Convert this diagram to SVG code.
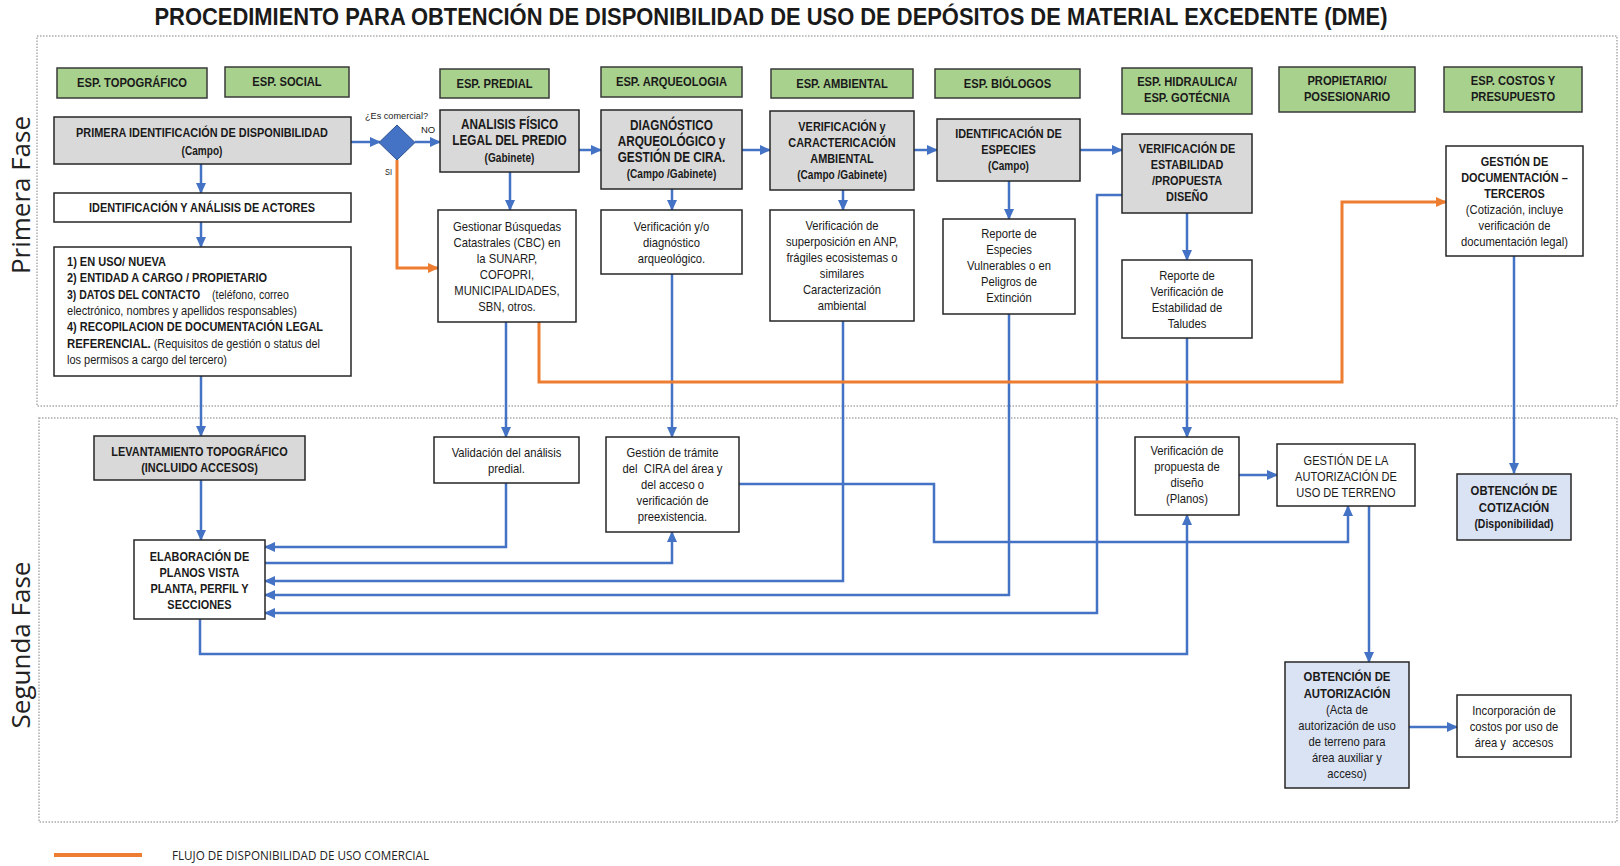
<svg xmlns="http://www.w3.org/2000/svg" width="1620" height="866" viewBox="0 0 1620 866">
  <defs>
    <marker id="ab" markerWidth="11" markerHeight="10" refX="10" refY="5" orient="auto" markerUnits="userSpaceOnUse">
      <path d="M0,0 L11,5 L0,10 z" fill="#4472C4"/>
    </marker>
    <marker id="ao" markerWidth="11" markerHeight="10" refX="10" refY="5" orient="auto" markerUnits="userSpaceOnUse">
      <path d="M0,0 L11,5 L0,10 z" fill="#ED7D31"/>
    </marker>
    <style>
      text { font-family: "Liberation Sans", Arial, sans-serif; fill: #1a1a1a; }
      .c { text-anchor: middle; }
      .b { font-weight: bold; font-size: 13px; }
      .bd { font-weight: bold; font-size: 12.5px; }
      .bs { font-weight: bold; font-size: 12px; }
      .n { font-size: 12.5px; }
      .s { font-size: 12px; }
      .t { font-weight: bold; font-size: 23px; }
      .ph { font-family: "Open Sans", "Noto Sans", sans-serif; font-size: 26px; fill: #222; }
      .lg { font-family: "Open Sans", "Noto Sans", sans-serif; font-size: 12px; fill: #222; }
      .tiny { font-size: 9.5px; }
      .grn { fill: #A9D18E; stroke: #3a3a3a; stroke-width: 1.5; }
      .gry { fill: #D9D9D9; stroke: #262626; stroke-width: 1.5; }
      .wht { fill: #FFFFFF; stroke: #262626; stroke-width: 1.5; }
      .lbl { fill: #DAE3F3; stroke: #262626; stroke-width: 1.5; }
      .frame { fill: none; stroke: #ababab; stroke-width: 1.5; stroke-dasharray: 1.5 1.5; }
      .bl { fill: none; stroke: #4472C4; stroke-width: 2.5; }
      .or { fill: none; stroke: #ED7D31; stroke-width: 3; }
    </style>
  </defs>

  <!-- title -->
  <text class="t c" x="771" y="25" textLength="1233" lengthAdjust="spacingAndGlyphs">PROCEDIMIENTO PARA OBTENCIÓN DE DISPONIBILIDAD DE USO DE DEPÓSITOS DE MATERIAL EXCEDENTE (DME)</text>

  <!-- phase frames -->
  <g id="phases">
    <rect class="frame" x="37" y="36" width="1580" height="370"/>
    <rect class="frame" x="39" y="418" width="1578" height="404"/>
    <text class="ph c" transform="translate(30,195) rotate(-90)" textLength="158" lengthAdjust="spacingAndGlyphs">Primera Fase</text>
    <text class="ph c" transform="translate(30,645) rotate(-90)" textLength="167" lengthAdjust="spacingAndGlyphs">Segunda Fase</text>
  </g>

  <!-- specialist headers (condensed lettering via horizontal scale) -->
  <g id="h-topo"><rect class="grn" x="57" y="68" width="150" height="30"/>
    <g transform="translate(132,0) scale(0.86,1)"><text class="b c" x="0" y="87.5">ESP. TOPOGRÁFICO</text></g></g>
  <g id="h-social"><rect class="grn" x="225" y="67" width="124" height="30"/>
    <g transform="translate(287,0) scale(0.86,1)"><text class="b c" x="0" y="86">ESP. SOCIAL</text></g></g>
  <g id="h-predial"><rect class="grn" x="440" y="69" width="109" height="29"/>
    <g transform="translate(494.5,0) scale(0.86,1)"><text class="b c" x="0" y="88">ESP. PREDIAL</text></g></g>
  <g id="h-arqueo"><rect class="grn" x="601" y="67" width="141" height="30"/>
    <g transform="translate(671.5,0) scale(0.86,1)"><text class="b c" x="0" y="86">ESP. ARQUEOLOGIA</text></g></g>
  <g id="h-ambiental"><rect class="grn" x="771" y="69" width="142" height="29"/>
    <g transform="translate(842,0) scale(0.86,1)"><text class="b c" x="0" y="88">ESP. AMBIENTAL</text></g></g>
  <g id="h-biologos"><rect class="grn" x="935" y="69" width="145" height="29"/>
    <g transform="translate(1007.5,0) scale(0.86,1)"><text class="b c" x="0" y="88">ESP. BIÓLOGOS</text></g></g>
  <g id="h-hidraulica"><rect class="grn" x="1122" y="68" width="130" height="46"/>
    <g transform="translate(1187,0) scale(0.86,1)"><text class="b c" x="0" y="86">ESP. HIDRAULICA/</text><text class="b c" x="0" y="102">ESP. GOTÉCNIA</text></g></g>
  <g id="h-propietario"><rect class="grn" x="1279" y="67" width="136" height="45"/>
    <g transform="translate(1347,0) scale(0.86,1)"><text class="b c" x="0" y="85">PROPIETARIO/</text><text class="b c" x="0" y="101">POSESIONARIO</text></g></g>
  <g id="h-costos"><rect class="grn" x="1444" y="67" width="138" height="45"/>
    <g transform="translate(1513,0) scale(0.86,1)"><text class="b c" x="0" y="85">ESP. COSTOS Y</text><text class="b c" x="0" y="101">PRESUPUESTO</text></g></g>

  <!-- connectors -->
  <g id="connectors">
    <path class="bl" d="M351,142 H380" marker-end="url(#ab)"/>
    <path class="bl" d="M415,142 H440" marker-end="url(#ab)"/>
    <path class="bl" d="M201,164 V193" marker-end="url(#ab)"/>
    <path class="bl" d="M201,222 V247" marker-end="url(#ab)"/>
    <path class="bl" d="M201,376 V436" marker-end="url(#ab)"/>
    <path class="bl" d="M201,480 V540" marker-end="url(#ab)"/>
    <path class="bl" d="M579,150 H601" marker-end="url(#ab)"/>
    <path class="bl" d="M510,172 V210" marker-end="url(#ab)"/>
    <path class="bl" d="M742,150 H770" marker-end="url(#ab)"/>
    <path class="bl" d="M672,189 V210" marker-end="url(#ab)"/>
    <path class="bl" d="M914,150 H937" marker-end="url(#ab)"/>
    <path class="bl" d="M843,190 V210" marker-end="url(#ab)"/>
    <path class="bl" d="M1080,150 H1122" marker-end="url(#ab)"/>
    <path class="bl" d="M1009,181 V219" marker-end="url(#ab)"/>
    <path class="bl" d="M1187,213 V260" marker-end="url(#ab)"/>
    <path class="bl" d="M1187,338 V437" marker-end="url(#ab)"/>
    <path class="bl" d="M506,322 V437" marker-end="url(#ab)"/>
    <path class="bl" d="M672,274 V437" marker-end="url(#ab)"/>
    <path class="bl" d="M506,483 V547 H265" marker-end="url(#ab)"/>
    <path class="bl" d="M265,563 H672 V532" marker-end="url(#ab)"/>
    <path class="bl" d="M843,321 V581 H265" marker-end="url(#ab)"/>
    <path class="bl" d="M1009,314 V595 H265" marker-end="url(#ab)"/>
    <path class="bl" d="M1122,195 H1097 V613 H265" marker-end="url(#ab)"/>
    <path class="bl" d="M200,619 V654 H1187 V515" marker-end="url(#ab)"/>
    <path class="bl" d="M739,484 H934 V542 H1348 V506" marker-end="url(#ab)"/>
    <path class="bl" d="M1239,475 H1277" marker-end="url(#ab)"/>
    <path class="bl" d="M1514,256 V473" marker-end="url(#ab)"/>
    <path class="bl" d="M1369,506 V662" marker-end="url(#ab)"/>
    <path class="bl" d="M1409,727 H1457" marker-end="url(#ab)"/>
    <path class="or" d="M397,160 V268 H438" marker-end="url(#ao)"/>
    <path class="or" d="M539,322 V382 H1342 V202 H1446" marker-end="url(#ao)"/>
  </g>

  <!-- decision -->
  <g id="decision">
    <path d="M397,125 L415,142.5 L397,160 L379,142.5 z" fill="#4472C4" stroke="#2F528F" stroke-width="1"/>
    <text class="tiny" x="365" y="119" textLength="63" lengthAdjust="spacingAndGlyphs">¿Es comercial?</text>
    <text class="tiny" x="421" y="133">NO</text>
    <text class="tiny" x="385" y="175" textLength="7" lengthAdjust="spacingAndGlyphs">SI</text>
  </g>

  <!-- first phase nodes -->
  <g id="n-primera"><rect class="gry" x="54" y="117" width="297" height="47"/>
    <g transform="translate(202,0) scale(0.84,1)">
      <text class="b c" x="0" y="137">PRIMERA IDENTIFICACIÓN DE DISPONIBILIDAD</text>
      <text class="bs c" x="0" y="155">(Campo)</text></g></g>
  <g id="n-actores"><rect class="wht" x="54" y="193" width="297" height="29"/>
    <g transform="translate(202,0) scale(0.84,1)">
      <text class="b c" x="0" y="212.5">IDENTIFICACIÓN Y ANÁLISIS DE ACTORES</text></g></g>
  <g id="n-detalle"><rect class="wht" x="54" y="247" width="297" height="129"/>
    <text class="bd" x="67" y="266" textLength="99" lengthAdjust="spacingAndGlyphs">1) EN USO/ NUEVA</text>
    <text class="bd" x="67" y="282" textLength="200" lengthAdjust="spacingAndGlyphs">2) ENTIDAD A CARGO / PROPIETARIO</text>
    <text class="bd" transform="translate(67,0) scale(0.84,1)" x="0" y="299">3) DATOS DEL CONTACTO</text>
    <text class="s" transform="translate(212,0) scale(0.88,1)" x="0" y="299">(teléfono, correo</text>
    <text class="s" x="67" y="315" textLength="230" lengthAdjust="spacingAndGlyphs">electrónico, nombres y apellidos responsables)</text>
    <text class="bd" x="67" y="331" textLength="256" lengthAdjust="spacingAndGlyphs">4) RECOPILACION DE DOCUMENTACIÓN LEGAL</text>
    <text x="67" y="348" textLength="253" lengthAdjust="spacingAndGlyphs"><tspan class="bd">REFERENCIAL.</tspan><tspan class="s"> (Requisitos de gestión o status del</tspan></text>
    <text class="s" x="67" y="364" textLength="160" lengthAdjust="spacingAndGlyphs">los permisos a cargo del tercero)</text></g>

  <g id="n-analisis"><rect class="gry" x="440" y="110" width="139" height="62"/>
    <g transform="translate(509.5,0) scale(0.84,1)">
      <text class="b c" x="0" y="129" style="font-size:14px">ANALISIS FÍSICO</text>
      <text class="b c" x="0" y="145" style="font-size:14px">LEGAL DEL PREDIO</text>
      <text class="bs c" x="0" y="162">(Gabinete)</text></g></g>
  <g id="n-busquedas"><rect class="wht" x="438" y="210" width="138" height="112"/>
    <g transform="translate(507,0) scale(0.9,1)">
      <text class="n c" x="0" y="231">Gestionar Búsquedas</text>
      <text class="n c" x="0" y="247">Catastrales (CBC) en</text>
      <text class="n c" x="0" y="263">la SUNARP,</text>
      <text class="n c" x="0" y="279">COFOPRI,</text>
      <text class="n c" x="0" y="295">MUNICIPALIDADES,</text>
      <text class="n c" x="0" y="311">SBN, otros.</text></g></g>

  <g id="n-diagnostico"><rect class="gry" x="601" y="110" width="141" height="79"/>
    <g transform="translate(671.5,0) scale(0.84,1)">
      <text class="b c" x="0" y="130" style="font-size:14px">DIAGNÓSTICO</text>
      <text class="b c" x="0" y="146" style="font-size:14px">ARQUEOLÓGICO y</text>
      <text class="b c" x="0" y="162" style="font-size:14px">GESTIÓN DE CIRA.</text>
      <text class="bs c" x="0" y="178">(Campo /Gabinete)</text></g></g>
  <g id="n-arqueo"><rect class="wht" x="601" y="210" width="141" height="64"/>
    <g transform="translate(671.5,0) scale(0.9,1)">
      <text class="n c" x="0" y="231">Verificación y/o</text>
      <text class="n c" x="0" y="247">diagnóstico</text>
      <text class="n c" x="0" y="263">arqueológico.</text></g></g>

  <g id="n-ambiental"><rect class="gry" x="770" y="111" width="144" height="79"/>
    <g transform="translate(842,0) scale(0.84,1)">
      <text class="b c" x="0" y="131">VERIFICACIÓN y</text>
      <text class="b c" x="0" y="147">CARACTERICACIÓN</text>
      <text class="b c" x="0" y="163">AMBIENTAL</text>
      <text class="bs c" x="0" y="179">(Campo /Gabinete)</text></g></g>
  <g id="n-superposicion"><rect class="wht" x="770" y="210" width="144" height="111"/>
    <g transform="translate(842,0) scale(0.9,1)">
      <text class="n c" x="0" y="230">Verificación de</text>
      <text class="n c" x="0" y="246">superposición en ANP,</text>
      <text class="n c" x="0" y="262">frágiles ecosistemas o</text>
      <text class="n c" x="0" y="278">similares</text>
      <text class="n c" x="0" y="294">Caracterización</text>
      <text class="n c" x="0" y="310">ambiental</text></g></g>

  <g id="n-especies"><rect class="gry" x="937" y="119" width="143" height="62"/>
    <g transform="translate(1008.5,0) scale(0.84,1)">
      <text class="b c" x="0" y="138">IDENTIFICACIÓN DE</text>
      <text class="b c" x="0" y="154">ESPECIES</text>
      <text class="bs c" x="0" y="170">(Campo)</text></g></g>
  <g id="n-reporte-especies"><rect class="wht" x="943" y="219" width="132" height="95"/>
    <g transform="translate(1009,0) scale(0.9,1)">
      <text class="n c" x="0" y="238">Reporte de</text>
      <text class="n c" x="0" y="254">Especies</text>
      <text class="n c" x="0" y="270">Vulnerables o en</text>
      <text class="n c" x="0" y="286">Peligros de</text>
      <text class="n c" x="0" y="302">Extinción</text></g></g>

  <g id="n-estabilidad"><rect class="gry" x="1122" y="134" width="130" height="79"/>
    <g transform="translate(1187,0) scale(0.84,1)">
      <text class="b c" x="0" y="153">VERIFICACIÓN DE</text>
      <text class="b c" x="0" y="169">ESTABILIDAD</text>
      <text class="b c" x="0" y="185">/PROPUESTA</text>
      <text class="b c" x="0" y="201">DISEÑO</text></g></g>
  <g id="n-taludes"><rect class="wht" x="1122" y="260" width="130" height="78"/>
    <g transform="translate(1187,0) scale(0.9,1)">
      <text class="n c" x="0" y="280">Reporte de</text>
      <text class="n c" x="0" y="296">Verificación de</text>
      <text class="n c" x="0" y="312">Estabilidad de</text>
      <text class="n c" x="0" y="328">Taludes</text></g></g>

  <g id="n-documentacion"><rect class="wht" x="1446" y="146" width="137" height="110"/>
    <g transform="translate(1514.5,0) scale(0.84,1)">
      <text class="b c" x="0" y="166">GESTIÓN DE</text>
      <text class="b c" x="0" y="182">DOCUMENTACIÓN –</text>
      <text class="b c" x="0" y="198">TERCEROS</text></g>
    <g transform="translate(1514.5,0) scale(0.9,1)">
      <text class="n c" x="0" y="214">(Cotización, incluye</text>
      <text class="n c" x="0" y="230">verificación de</text>
      <text class="n c" x="0" y="246">documentación legal)</text></g></g>

  <!-- second phase nodes -->
  <g id="n-levantamiento"><rect class="gry" x="94" y="436" width="211" height="44"/>
    <g transform="translate(199.5,0) scale(0.84,1)">
      <text class="b c" x="0" y="456">LEVANTAMIENTO TOPOGRÁFICO</text>
      <text class="b c" x="0" y="472">(INCLUIDO ACCESOS)</text></g></g>
  <g id="n-planos"><rect class="wht" x="134" y="540" width="131" height="79"/>
    <g transform="translate(199.5,0) scale(0.84,1)">
      <text class="b c" x="0" y="561">ELABORACIÓN DE</text>
      <text class="b c" x="0" y="577">PLANOS VISTA</text>
      <text class="b c" x="0" y="593">PLANTA, PERFIL Y</text>
      <text class="b c" x="0" y="609">SECCIONES</text></g></g>
  <g id="n-validacion"><rect class="wht" x="434" y="437" width="145" height="46"/>
    <g transform="translate(506.5,0) scale(0.9,1)">
      <text class="n c" x="0" y="457">Validación del análisis</text>
      <text class="n c" x="0" y="473">predial.</text></g></g>
  <g id="n-cira"><rect class="wht" x="606" y="437" width="133" height="95"/>
    <g transform="translate(672.5,0) scale(0.9,1)">
      <text class="n c" x="0" y="457">Gestión de trámite</text>
      <text class="n c" x="0" y="473" xml:space="preserve">del  CIRA del área y</text>
      <text class="n c" x="0" y="489">del acceso o</text>
      <text class="n c" x="0" y="505">verificación de</text>
      <text class="n c" x="0" y="521">preexistencia.</text></g></g>
  <g id="n-propuesta"><rect class="wht" x="1135" y="437" width="104" height="78"/>
    <g transform="translate(1187,0) scale(0.9,1)">
      <text class="n c" x="0" y="455">Verificación de</text>
      <text class="n c" x="0" y="471">propuesta de</text>
      <text class="n c" x="0" y="487">diseño</text>
      <text class="n c" x="0" y="503">(Planos)</text></g></g>
  <g id="n-gestion-autorizacion"><rect class="wht" x="1277" y="444" width="138" height="62"/>
    <g transform="translate(1346,0) scale(0.82,1)">
      <text class="n c" x="0" y="465" style="font-size:13.5px">GESTIÓN DE LA</text>
      <text class="n c" x="0" y="481" style="font-size:13.5px">AUTORIZACIÓN DE</text>
      <text class="n c" x="0" y="497" style="font-size:13.5px">USO DE TERRENO</text></g></g>
  <g id="n-cotizacion"><rect class="lbl" x="1457" y="474" width="114" height="66"/>
    <g transform="translate(1514,0) scale(0.84,1)">
      <text class="b c" x="0" y="495" style="font-size:13.5px">OBTENCIÓN DE</text>
      <text class="b c" x="0" y="512" style="font-size:13.5px">COTIZACIÓN</text>
      <text class="bs c" x="0" y="528" style="font-size:12.5px">(Disponibilidad)</text></g></g>
  <g id="n-autorizacion"><rect class="lbl" x="1285" y="662" width="124" height="126"/>
    <g transform="translate(1347,0) scale(0.84,1)">
      <text class="b c" x="0" y="681" style="font-size:13.5px">OBTENCIÓN DE</text>
      <text class="b c" x="0" y="698" style="font-size:13.5px">AUTORIZACIÓN</text></g>
    <g transform="translate(1347,0) scale(0.9,1)">
      <text class="n c" x="0" y="714">(Acta de</text>
      <text class="n c" x="0" y="730">autorización de uso</text>
      <text class="n c" x="0" y="746">de terreno para</text>
      <text class="n c" x="0" y="762">área auxiliar y</text>
      <text class="n c" x="0" y="778">acceso)</text></g></g>
  <g id="n-costos"><rect class="wht" x="1457" y="695" width="114" height="62"/>
    <g transform="translate(1514,0) scale(0.9,1)">
      <text class="n c" x="0" y="715">Incorporación de</text>
      <text class="n c" x="0" y="731">costos por uso de</text>
      <text class="n c" x="0" y="747" xml:space="preserve">área y  accesos</text></g></g>

  <!-- legend -->
  <g id="legend">
    <line x1="54" y1="855" x2="142" y2="855" stroke="#ED7D31" stroke-width="4"/>
    <text class="lg" x="172" y="860" textLength="257" lengthAdjust="spacingAndGlyphs">FLUJO DE DISPONIBILIDAD DE USO COMERCIAL</text>
  </g>
</svg>
